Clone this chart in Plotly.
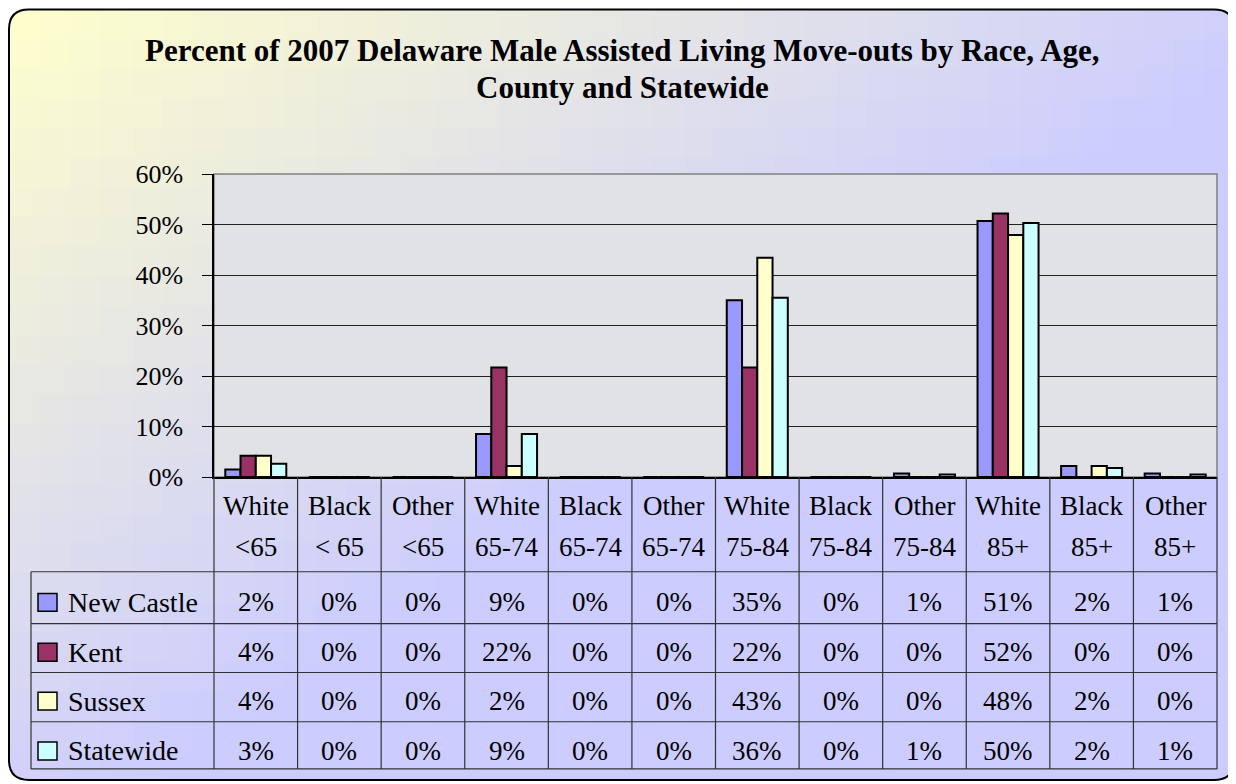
import plotly.graph_objects as go

# ---------------- data ----------------
categories = ["White <65", "Black < 65", "Other <65",
              "White 65-74", "Black 65-74", "Other 65-74",
              "White 75-84", "Black 75-84", "Other 75-84",
              "White 85+", "Black 85+", "Other 85+"]
cat_line1 = ["White", "Black", "Other", "White", "Black", "Other",
             "White", "Black", "Other", "White", "Black", "Other"]
cat_line2 = ["<65", "< 65", "<65", "65-74", "65-74", "65-74",
             "75-84", "75-84", "75-84", "85+", "85+", "85+"]

series_names = ["New Castle", "Kent", "Sussex", "Statewide"]
new_castle = [1.5, 0, 0, 8.5, 0, 0, 35.0, 0, 0.7, 50.7, 2.2, 0.7]
kent = [4.2, 0, 0, 21.7, 0, 0, 21.7, 0, 0, 52.2, 0, 0]
sussex = [4.2, 0, 0, 2.2, 0, 0, 43.4, 0, 0, 47.9, 2.2, 0]
statewide = [2.6, 0, 0, 8.5, 0, 0, 35.5, 0, 0.5, 50.3, 1.8, 0.5]
series_values = [new_castle, kent, sussex, statewide]
series_colors = ["#9999ff", "#993366", "#ffffcc", "#ccffff"]

y_ticks = [0, 10, 20, 30, 40, 50, 60]
title_line1 = "Percent of 2007 Delaware Male Assisted Living Move-outs by Race, Age,"
title_line2 = "County and Statewide"

# ---------------- geometry helpers ----------------
# The page body adds an 8px offset; all design coordinates below are
# screen pixels, converted to figure pixels by subtracting OFF.
OFF = 8
SCREEN_W, SCREEN_H = 1236, 784
W, H = SCREEN_W - OFF, SCREEN_H - OFF
PLOT_L, PLOT_R, PLOT_T, PLOT_B = 214, 1217, 173.5, 477.3   # screen px
ML = PLOT_L - OFF
MR = W - (PLOT_R - OFF)
MT = PLOT_T - OFF
MB = H - (PLOT_B - OFF)
PW = W - ML - MR
PH = H - MT - MB
FONT = "Liberation Serif"


def fx(x):
    return (x - OFF - ML) / PW


def fy(y):
    return (H - MB - (y - OFF)) / PH


def half_up(v):
    return int(v + 0.5 + 1e-9)


fig = go.Figure()
for name, vals, color in zip(series_names, series_values, series_colors):
    fig.add_bar(x=categories, y=vals, name=name,
                marker=dict(color=color, line=dict(color="black", width=2)))

shapes = []

# background gradient (diagonal, yellow -> lavender) inside the rounded box
bx0, by0, bx1, by1, rad = 9, 8.5, 1234, 781, 20
nx, ny = 40, 26
for i in range(nx):
    for j in range(ny):
        cx0 = bx0 + (bx1 - bx0) * i / nx
        cx1 = bx0 + (bx1 - bx0) * (i + 1) / nx
        cy0 = by0 + (by1 - by0) * j / ny
        cy1 = by0 + (by1 - by0) * (j + 1) / ny
        u = ((cx0 + cx1) / 2 - bx0) / (bx1 - bx0)
        v = ((cy0 + cy1) / 2 - by0) / (by1 - by0)
        t = max(0.0, min(1.0, 0.92 * u + 0.9 * v))
        rg = round(255 - 51 * t)
        b = round(204 + 51 * t)
        col = f"rgb({rg},{rg},{b})"
        shapes.append(dict(type="rect", xref="paper", yref="paper", layer="below",
                           x0=fx(cx0), x1=fx(min(cx1 + 1, bx1)),
                           y0=fy(cy0), y1=fy(min(cy1 + 1, by1)),
                           fillcolor=col, line=dict(width=0)))


def P(x, y):
    return f"{fx(x):.6f},{fy(y):.6f}"


# white masks outside rounded corners
corner_paths = [
    f"M{P(bx0-2,by0-2)} L{P(bx0+rad,by0-2)} L{P(bx0+rad,by0)} Q{P(bx0,by0)} {P(bx0,by0+rad)} L{P(bx0-2,by0+rad)} Z",
    f"M{P(bx1+2,by0-2)} L{P(bx1-rad,by0-2)} L{P(bx1-rad,by0)} Q{P(bx1,by0)} {P(bx1,by0+rad)} L{P(bx1+2,by0+rad)} Z",
    f"M{P(bx0-2,by1+2)} L{P(bx0+rad,by1+2)} L{P(bx0+rad,by1)} Q{P(bx0,by1)} {P(bx0,by1-rad)} L{P(bx0-2,by1-rad)} Z",
    f"M{P(bx1+2,by1+2)} L{P(bx1-rad,by1+2)} L{P(bx1-rad,by1)} Q{P(bx1,by1)} {P(bx1,by1-rad)} L{P(bx1+2,by1-rad)} Z",
]
for pth in corner_paths:
    shapes.append(dict(type="path", xref="paper", yref="paper", layer="below",
                       path=pth, fillcolor="white", line=dict(width=0)))

# rounded border
border = (f"M{P(bx0+rad,by0)} L{P(bx1-rad,by0)} Q{P(bx1,by0)} {P(bx1,by0+rad)} "
          f"L{P(bx1,by1-rad)} Q{P(bx1,by1)} {P(bx1-rad,by1)} L{P(bx0+rad,by1)} "
          f"Q{P(bx0,by1)} {P(bx0,by1-rad)} L{P(bx0,by0+rad)} Q{P(bx0,by0)} {P(bx0+rad,by0)} Z")
shapes.append(dict(type="path", xref="paper", yref="paper", layer="above",
                   path=border, line=dict(color="black", width=2)))

# plot area (marble-like light grey)
shapes.append(dict(type="rect", xref="paper", yref="paper", layer="below",
                   x0=0, x1=1, y0=0, y1=1, fillcolor="#e1e2e6",
                   line=dict(color="#808080", width=1.5)))

# data table grid
col_w = (PLOT_R - PLOT_L) / len(categories)
row_lines = [572.3, 624.3, 673.3, 722.7, 770]
for k in range(len(categories) + 1):
    xk = PLOT_L + col_w * k
    shapes.append(dict(type="line", xref="paper", yref="paper", layer="above",
                       x0=fx(xk), x1=fx(xk), y0=fy(PLOT_B), y1=fy(770),
                       line=dict(color="#333333", width=1.2)))
shapes.append(dict(type="line", xref="paper", yref="paper", layer="above",
                   x0=fx(31), x1=fx(31), y0=fy(572.3), y1=fy(770),
                   line=dict(color="#333333", width=1.2)))
for yl in row_lines:
    shapes.append(dict(type="line", xref="paper", yref="paper", layer="above",
                       x0=fx(31), x1=fx(PLOT_R), y0=fy(yl), y1=fy(yl),
                       line=dict(color="#333333", width=1.2)))

# legend keys in the table
row_centers = [603, 653, 702, 752]
for yc, color in zip(row_centers, series_colors):
    shapes.append(dict(type="rect", xref="paper", yref="paper", layer="above",
                       x0=fx(38), x1=fx(57), y0=fy(yc - 9), y1=fy(yc + 9),
                       fillcolor=color, line=dict(color="black", width=1.5)))

annotations = []
annotations.append(dict(text=f"<b>{title_line1}</b>", xref="paper", yref="paper",
                        x=fx(622), y=fy(50), xanchor="center", yanchor="middle",
                        showarrow=False, font=dict(family=FONT, size=31, color="black")))
annotations.append(dict(text=f"<b>{title_line2}</b>", xref="paper", yref="paper",
                        x=fx(622), y=fy(87), xanchor="center", yanchor="middle",
                        showarrow=False, font=dict(family=FONT, size=31, color="black")))

for cat, l1, l2 in zip(categories, cat_line1, cat_line2):
    annotations.append(dict(text=l1, xref="x", yref="paper", x=cat, y=fy(506),
                            xanchor="center", yanchor="middle", showarrow=False,
                            font=dict(family=FONT, size=27, color="black")))
    annotations.append(dict(text=l2, xref="x", yref="paper", x=cat, y=fy(547),
                            xanchor="center", yanchor="middle", showarrow=False,
                            font=dict(family=FONT, size=27, color="black")))

for name, vals, yc in zip(series_names, series_values, row_centers):
    annotations.append(dict(text=name, xref="paper", yref="paper", x=fx(66), y=fy(yc),
                            xanchor="left", yanchor="middle", showarrow=False,
                            font=dict(family=FONT, size=28, color="black")))
    for cat, v in zip(categories, vals):
        annotations.append(dict(text=f"{half_up(v)}%", xref="x", yref="paper", x=cat,
                                y=fy(yc), xanchor="center", yanchor="middle",
                                showarrow=False,
                                font=dict(family=FONT, size=27, color="black")))

fig.update_layout(
    width=W, height=H,
    margin=dict(l=ML, r=MR, t=MT, b=MB, pad=0),
    paper_bgcolor="white",
    plot_bgcolor="rgba(0,0,0,0)",
    showlegend=False,
    barmode="group", bargap=0.27, bargroupgap=0,
    font=dict(family=FONT, color="black"),
    shapes=shapes,
    annotations=annotations,
    xaxis=dict(type="category", categoryorder="array", categoryarray=categories,
               range=[-0.5, len(categories) - 0.5], showticklabels=False,
               showgrid=False, zeroline=False, showline=True,
               linecolor="black", linewidth=1.5, ticks=""),
    yaxis=dict(range=[0, 60], tickvals=y_ticks, ticktext=[f"{t}%" for t in y_ticks],
               ticks="outside", ticklen=10, tickcolor="black", tickwidth=1.2,
               showline=True, linecolor="black", linewidth=1.5,
               showgrid=True, gridcolor="#222222", gridwidth=1, zeroline=False,
               tickfont=dict(family=FONT, size=26, color="black"),
               ticklabelstandoff=14),
)

fig.write_html("out.html")
